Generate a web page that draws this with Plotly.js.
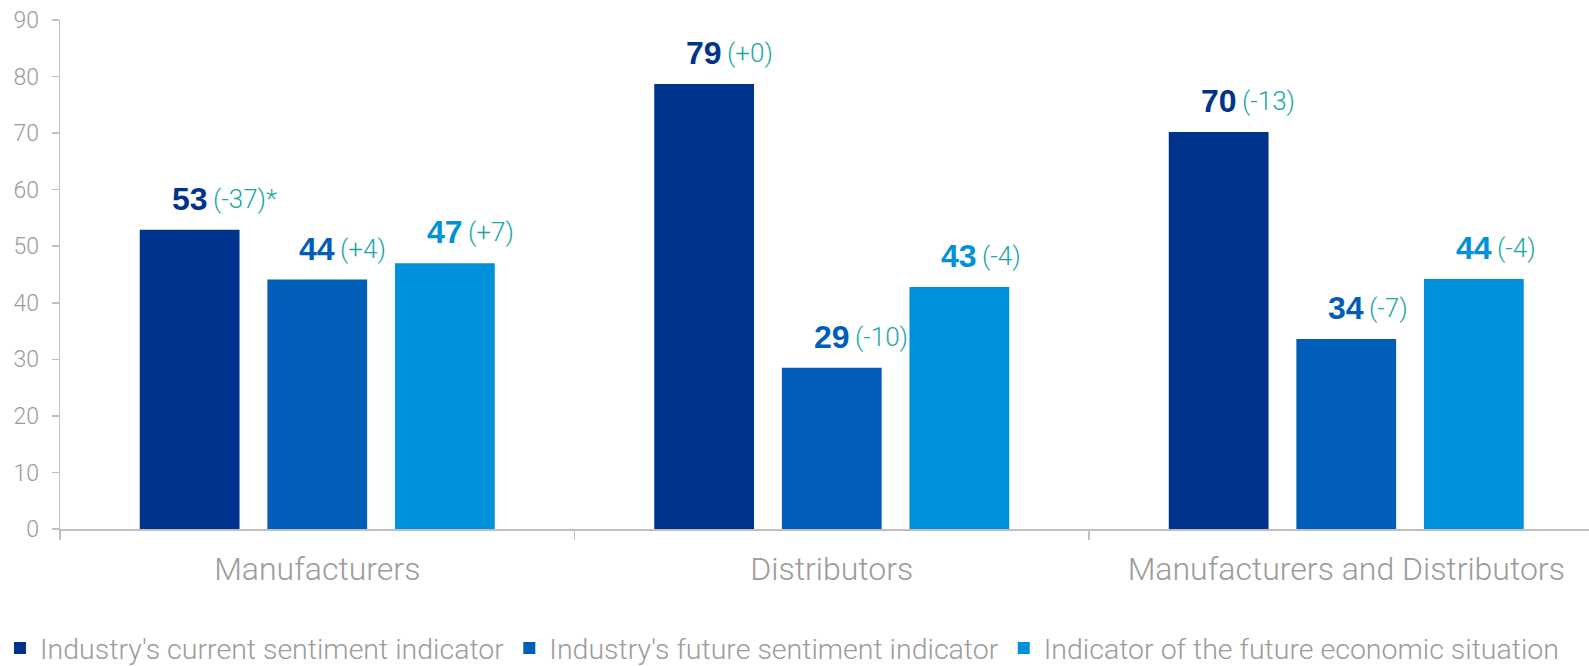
<!DOCTYPE html>
<html>
<head>
<meta charset="utf-8">
<script src="https://cdn.plot.ly/plotly-3.0.1.min.js"></script>
<style>
  html, body { margin: 0; padding: 0; background: #ffffff; }
  #chart { width: 1589px; height: 666px; }
</style>
</head>
<body>
<div id="chart"></div>
<script>
// ---- Data ----
const categories = ["Manufacturers", "Distributors", "Manufacturers and Distributors"];
const seriesNames = [
  "Industry's current sentiment indicator",
  "Industry's future sentiment indicator",
  "Indicator of the future economic situation"
];
const currentSentiment = [52.9, 78.7, 70.2];
const futureSentiment = [44.1, 28.5, 33.6];
const futureEconomic = [47.0, 42.8, 44.2];
const currentLabels = ["53", "79", "70"];
const futureLabels = ["44", "29", "34"];
const economicLabels = ["47", "43", "44"];
const currentChanges = ["(-37)*", "(+0)", "(-13)"];
const futureChanges = ["(+4)", "(-10)", "(-7)"];
const economicChanges = ["(+7)", "(-4)", "(-4)"];

// ---- Styles ----
const colors = ["#00338D", "#005EB8", "#0091DA"];
const changeColor = "#1AA8A3";
const grayText = "#9B9B9B";
const axisGray = "#BFBFBF";
const lightFont = "Roboto, 'Liberation Sans', Arial, sans-serif";
const boldFont = "'Liberation Sans', Arial, sans-serif";

const values = [currentSentiment, futureSentiment, futureEconomic];
const labels = [currentLabels, futureLabels, economicLabels];
const changes = [currentChanges, futureChanges, economicChanges];

const bargap = 0.256;
const bargroupgap = 0.218;
const nSeries = values.length;
const slot = (1 - bargap) / nSeries;

const traces = values.map((vals, i) => ({
  type: "bar",
  name: seriesNames[i],
  x: categories,
  y: vals,
  marker: { color: colors[i], line: { width: 0 } },
  hoverinfo: "skip"
}));

const annotations = [];
values.forEach((vals, i) => {
  vals.forEach((v, j) => {
    const xpos = j + (i - (nSeries - 1) / 2) * slot;
    annotations.push({
      x: xpos, y: v, xref: "x", yref: "y",
      text: "<b>" + labels[i][j] + "</b>",
      showarrow: false, xanchor: "center", yanchor: "middle",
      yshift: 31,
      font: { family: boldFont, size: 32, color: colors[i] }
    });
    annotations.push({
      x: xpos, y: v, xref: "x", yref: "y",
      text: changes[i][j],
      showarrow: false, xanchor: "left", yanchor: "middle",
      xshift: 21, yshift: 31,
      font: { family: lightFont, size: 26, color: changeColor, weight: 300 }
    });
  });
});

const plotWidth = 1589 - 60;
const plotHeight = 666 - 20 - 137;

const layout = {
  width: 1589,
  height: 666,
  margin: { l: 60, r: 0, t: 20, b: 137, pad: 0, autoexpand: false },
  paper_bgcolor: "#ffffff",
  plot_bgcolor: "#ffffff",
  barmode: "group",
  bargap: bargap,
  bargroupgap: bargroupgap,
  showlegend: true,
  legend: {
    orientation: "h",
    x: -60 / plotWidth,
    xanchor: "left",
    y: -145 / plotHeight,
    yanchor: "bottom",
    font: { family: lightFont, size: 28.5, color: grayText, weight: 300 },
    traceorder: "normal",
    itemclick: false,
    itemdoubleclick: false
  },
  xaxis: {
    type: "category",
    range: [-0.5, -0.5 + plotWidth / 514.5],
    showline: true,
    linecolor: axisGray,
    linewidth: 1.5,
    ticks: "outside",
    tickson: "boundaries",
    ticklen: 9,
    tickwidth: 1.5,
    tickcolor: axisGray,
    showgrid: false,
    zeroline: false,
    automargin: false,
    tickfont: { family: lightFont, size: 32, color: grayText, weight: 300 },
    ticklabelstandoff: 11,
    fixedrange: true
  },
  yaxis: {
    range: [0, 90],
    dtick: 10,
    tick0: 0,
    showline: true,
    linecolor: axisGray,
    linewidth: 1.5,
    ticks: "outside",
    ticklen: 7,
    tickwidth: 1.5,
    tickcolor: axisGray,
    showgrid: false,
    zeroline: false,
    automargin: false,
    tickfont: { family: lightFont, size: 23, color: grayText, weight: 300 },
    ticklabelstandoff: 8,
    fixedrange: true
  },
  annotations: annotations
};

Plotly.newPlot("chart", traces, layout, { displayModeBar: false, staticPlot: true });
</script>
</body>
</html>
